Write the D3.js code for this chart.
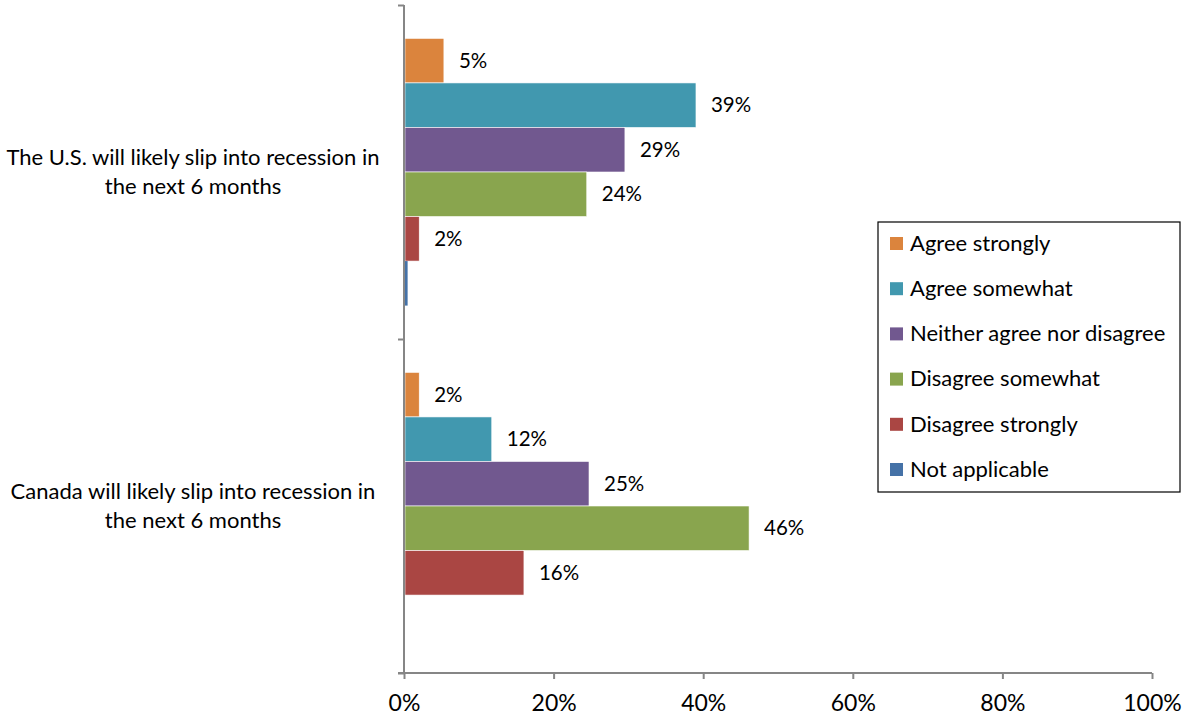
<!DOCTYPE html>
<html>
<head>
<meta charset="utf-8">
<script src="https://cdn.jsdelivr.net/npm/d3@7"></script>
<style>
  body { margin: 0; background: #fff; }
  svg { font-family: Lato, "Open Sans", sans-serif; }
</style>
</head>
<body>
<svg id="vis"></svg>
<script>
// Datos
const categorias = [
    ["The U.S. will likely slip into recession in", "the next 6 months"],
    ["Canada will likely slip into recession in", "the next 6 months"]
];
const series = ["Agree strongly", "Agree somewhat", "Neither agree nor disagree", "Disagree somewhat", "Disagree strongly", "Not applicable"];
const colores = ["#DB843D", "#4198AF", "#71588F", "#89A54E", "#AA4643", "#4572A7"];
const valoresUS = [5.2, 38.9, 29.4, 24.3, 1.9, 0.35];
const etiquetasUS = ["5%", "39%", "29%", "24%", "2%", ""];
const valoresCanada = [1.9, 11.6, 24.6, 46.0, 15.9, 0];
const etiquetasCanada = ["2%", "12%", "25%", "46%", "16%", ""];
const ticksX = [0, 20, 40, 60, 80, 100];

const WIDTH = 1184;
const HEIGHT = 719;
const MARGIN = { top: 5, bottom: 46, left: 404, right: 32 };

const WIDTHVIS = WIDTH - MARGIN.left - MARGIN.right;
const HEIGHTVIS = HEIGHT - MARGIN.top - MARGIN.bottom;

const svg = d3.select("#vis")
    .attr("width", WIDTH)
    .attr("height", HEIGHT);

const datos = [
    { cat: 0, valores: valoresUS, etiquetas: etiquetasUS },
    { cat: 1, valores: valoresCanada, etiquetas: etiquetasCanada }
];

// Escalas
const escalaX = d3.scaleLinear().domain([0, 100]).range([0, WIDTHVIS]);
const escalaY = d3.scaleBand().domain([0, 1]).range([0, HEIGHTVIS]).padding(0);
const escalaSerie = d3.scaleBand().domain(series).range([0, escalaY.bandwidth()])
    .paddingInner(0).paddingOuter(0.75);
const color = d3.scaleOrdinal().domain(series).range(colores);

const contenedorVis = svg.append("g")
    .attr("transform", `translate(${MARGIN.left}, ${MARGIN.top})`);

// Barras
const grupos = contenedorVis.selectAll("g.cat")
    .data(datos)
    .join("g")
    .attr("class", "cat")
    .attr("transform", d => `translate(0, ${escalaY(d.cat)})`);

const filas = d => series.map((s, i) => ({ serie: s, valor: d.valores[i], etiqueta: d.etiquetas[i] }));

grupos.selectAll("rect")
    .data(filas)
    .join("rect")
    .attr("x", 1)
    .attr("y", d => escalaSerie(d.serie))
    .attr("width", d => escalaX(d.valor))
    .attr("height", escalaSerie.bandwidth())
    .attr("fill", d => color(d.serie))
    .attr("stroke", d => d.valor > 1 ? "#fff" : "none")
    .attr("stroke-width", 0.6);

grupos.selectAll("text")
    .data(filas)
    .join("text")
    .attr("x", d => escalaX(d.valor) + 16)
    .attr("y", d => escalaSerie(d.serie) + escalaSerie.bandwidth() / 2)
    .attr("dy", "0.35em")
    .attr("font-size", 20.5)
    .attr("fill", "#000")
    .text(d => d.etiqueta);

// Ejes
const ejeX = d3.axisBottom(escalaX)
    .tickValues(ticksX)
    .tickSize(6)
    .tickFormat(d => d + "%");
const contenedorEjeX = svg.append("g")
    .attr("transform", `translate(${MARGIN.left}, ${MARGIN.top + HEIGHTVIS})`)
    .call(ejeX);
contenedorEjeX.select(".domain").attr("d", `M-6,0H${WIDTHVIS}`);
contenedorEjeX.selectAll("text")
    .attr("font-size", 23)
    .attr("font-family", "Lato, sans-serif")
    .attr("fill", "#000")
    .attr("y", 22);

const ejeY = d3.axisLeft(d3.scaleLinear().domain([0, 2]).range([HEIGHTVIS, 0]))
    .tickValues([0, 1, 2])
    .tickSize(6)
    .tickFormat("");
const contenedorEjeY = svg.append("g")
    .attr("transform", `translate(${MARGIN.left}, ${MARGIN.top})`)
    .call(ejeY);
contenedorEjeY.select(".domain").attr("d", `M0,0V${HEIGHTVIS}`);

svg.selectAll(".domain, .tick line")
    .attr("stroke", "#868686")
    .attr("stroke-width", 2);

// Nombres de categorías
svg.append("g")
    .selectAll("text")
    .data(datos)
    .join("text")
    .attr("x", 193)
    .attr("y", d => MARGIN.top + escalaY(d.cat) + escalaY.bandwidth() / 2 - 6)
    .attr("text-anchor", "middle")
    .attr("font-size", 22)
    .attr("fill", "#000")
    .selectAll("tspan")
    .data(d => categorias[d.cat])
    .join("tspan")
    .attr("x", 193)
    .attr("dy", (d, i) => i === 0 ? "-0.05em" : "1.3em")
    .text(d => d);

// Leyenda
const leyenda = svg.append("g").attr("transform", "translate(878, 222)");
leyenda.append("rect")
    .attr("width", 302)
    .attr("height", 270)
    .attr("fill", "#fff")
    .attr("stroke", "#000")
    .attr("stroke-width", 1.2);

const itemsLeyenda = leyenda.selectAll("g.item")
    .data(series)
    .join("g")
    .attr("class", "item")
    .attr("transform", (d, i) => `translate(12, ${21 + i * 45.2})`);

itemsLeyenda.append("rect")
    .attr("x", 0)
    .attr("y", -6)
    .attr("width", 13)
    .attr("height", 13)
    .attr("fill", d => color(d));

itemsLeyenda.append("text")
    .attr("x", 20)
    .attr("y", 0)
    .attr("dy", "0.35em")
    .attr("font-size", 22)
    .attr("fill", "#000")
    .text(d => d);
</script>
</body>
</html>
